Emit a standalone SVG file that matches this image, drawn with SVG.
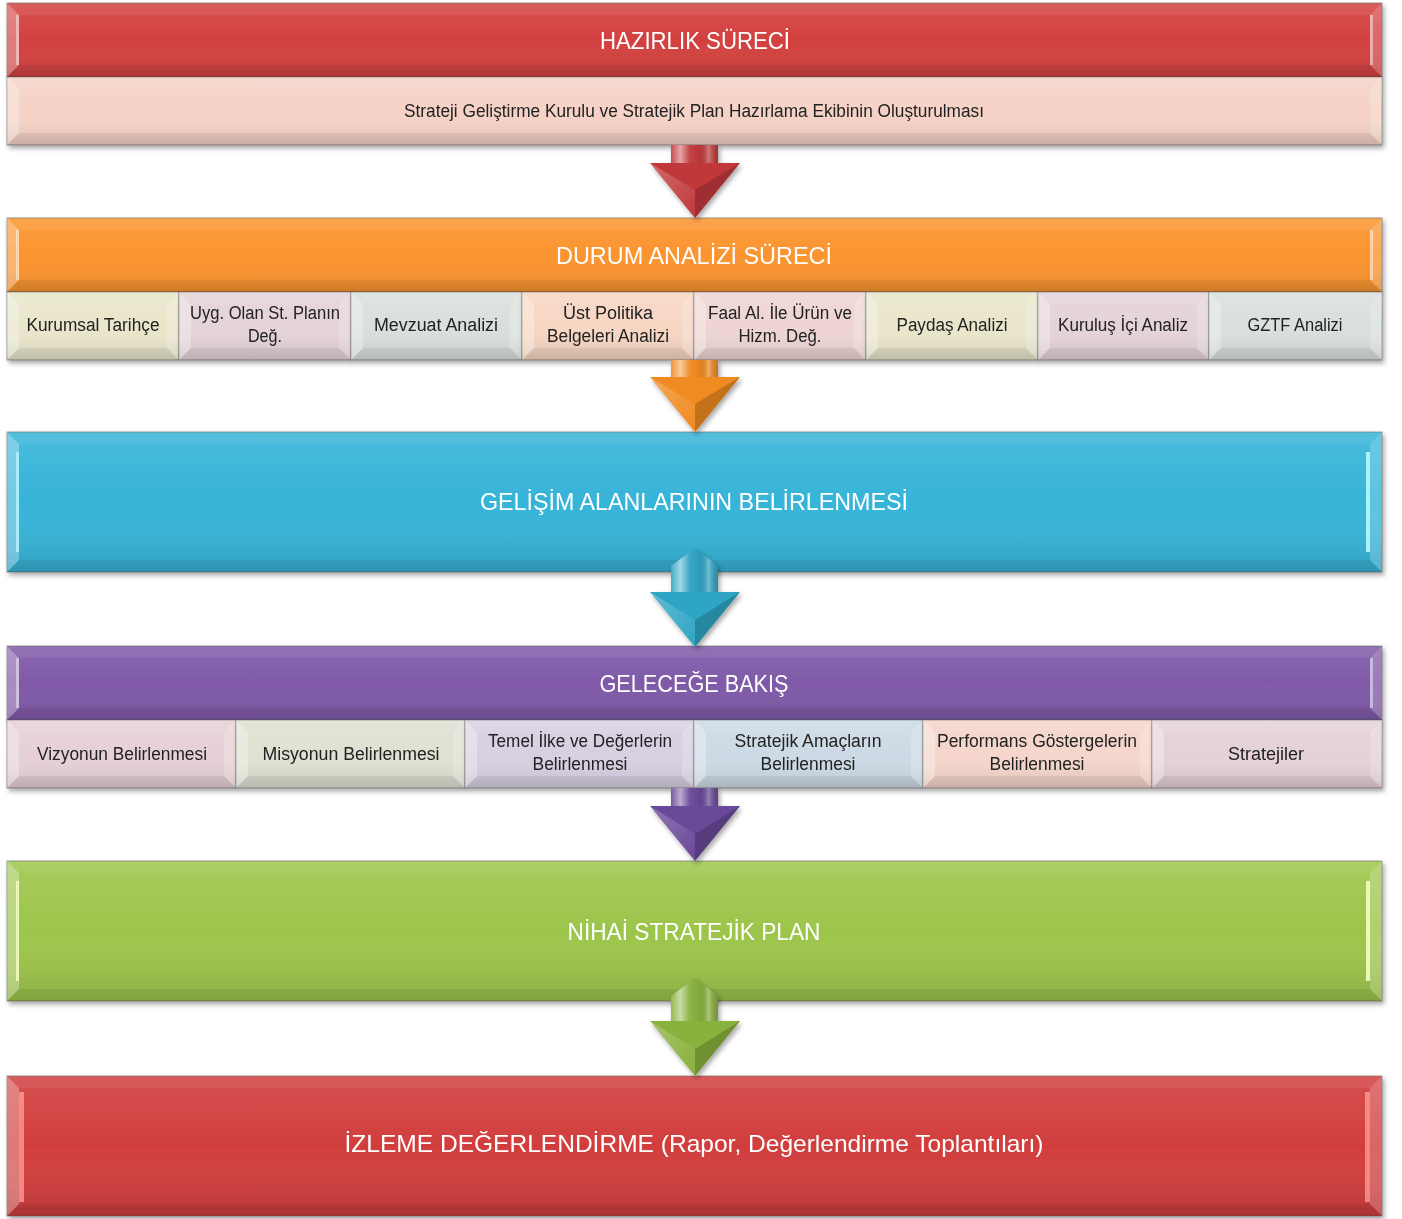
<svg xmlns="http://www.w3.org/2000/svg" width="1402" height="1219" viewBox="0 0 1402 1219">
<defs>
<filter id="sh" x="-5%" y="-20%" width="110%" height="150%"><feDropShadow dx="2" dy="3" stdDeviation="2.5" flood-color="#000" flood-opacity="0.35"/></filter>
<linearGradient id="gloss" x1="0" y1="0" x2="0" y2="1"><stop offset="0" stop-color="#fff" stop-opacity="0.1"/><stop offset="0.5" stop-color="#fff" stop-opacity="0"/><stop offset="1" stop-color="#000" stop-opacity="0.12"/></linearGradient>
<linearGradient id="headL" x1="0" y1="0" x2="1" y2="1"><stop offset="0" stop-color="#fff" stop-opacity="0.25"/><stop offset="1" stop-color="#fff" stop-opacity="0"/></linearGradient>
<linearGradient id="shaft" x1="0" y1="0" x2="1" y2="0"><stop offset="0" stop-color="#fff" stop-opacity="0.1"/><stop offset="0.2" stop-color="#fff" stop-opacity="0.55"/><stop offset="0.4" stop-color="#fff" stop-opacity="0.05"/><stop offset="0.6" stop-color="#000" stop-opacity="0.05"/><stop offset="0.8" stop-color="#fff" stop-opacity="0.3"/><stop offset="1" stop-color="#000" stop-opacity="0.15"/></linearGradient>
</defs>
<style>
.box{stroke:#555;stroke-opacity:0.55;stroke-width:1}
.bl{fill:#fff;fill-opacity:0.3}
.br{fill:#fff;fill-opacity:0.2}
.bt{fill:#fff;fill-opacity:0.06}
.bb{fill:#000;fill-opacity:0.06}
.hl{fill:#fff;fill-opacity:0.45}
.gl{fill:url(#gloss)}
.tt{font-family:"Liberation Sans",Arial,sans-serif;font-size:24px;fill:#fff;text-anchor:middle}
.st{font-family:"Liberation Sans",Arial,sans-serif;font-size:18px;fill:#222;text-anchor:middle}
.dk{fill:#000;fill-opacity:0.18}
.lt{fill:url(#headL)}
.sf{fill:url(#shaft)}
</style>
<rect width="1402" height="1219" fill="#fff"/>

<!-- HAZIRLIK -->
<g id="hazirlik" filter="url(#sh)">
<rect class="box" x="7" y="3" width="1375" height="74" fill="#d3403f"/>
<rect class="gl" x="7" y="3" width="1375" height="74"/>
<polygon class="bl" points="7,3 19,15 19,65 7,77"/><polygon class="br" points="1382,3 1370,15 1370,65 1382,77"/>
<polygon class="bt" points="7,3 1382,3 1370,15 19,15"/><polygon class="bb" points="7,77 1382,77 1370,65 19,65"/>
<rect class="hl" x="16" y="15" width="3" height="50"/><rect class="hl" x="1370" y="15" width="3" height="50"/>
<text class="tt" x="695" y="49" textLength="190" lengthAdjust="spacingAndGlyphs">HAZIRLIK SÜRECİ</text>
</g>
<g id="hazirlik-1" filter="url(#sh)">
<rect class="box" x="7" y="77" width="1375" height="68" fill="#f6d2c6"/>
<rect class="gl" x="7" y="77" width="1375" height="68"/>
<polygon class="bl" points="7,77 19,89 19,133 7,145"/><polygon class="br" points="1382,77 1370,89 1370,133 1382,145"/>
<polygon class="bt" points="7,77 1382,77 1370,89 19,89"/><polygon class="bb" points="7,145 1382,145 1370,133 19,133"/>
<text class="st" x="694" y="117" font-size="17" textLength="580" lengthAdjust="spacingAndGlyphs">Strateji Geliştirme Kurulu ve Stratejik Plan Hazırlama Ekibinin Oluşturulması</text>
</g>

<!-- DURUM ANALIZI -->
<g id="durum" filter="url(#sh)">
<rect class="box" x="7" y="218" width="1375" height="74" fill="#fb942e"/>
<rect class="gl" x="7" y="218" width="1375" height="74"/>
<polygon class="bl" points="7,218 19,230 19,280 7,292"/><polygon class="br" points="1382,218 1370,230 1370,280 1382,292"/>
<polygon class="bt" points="7,218 1382,218 1370,230 19,230"/><polygon class="bb" points="7,292 1382,292 1370,280 19,280"/>
<rect class="hl" x="16" y="230" width="3" height="50"/><rect class="hl" x="1370" y="230" width="3" height="50"/>
<text class="tt" x="694" y="264" textLength="276" lengthAdjust="spacingAndGlyphs">DURUM ANALİZİ SÜRECİ</text>
</g>
<g id="d1" filter="url(#sh)">
<rect class="box" x="7" y="292" width="172" height="68" fill="#e9e6cb"/><rect class="gl" x="7" y="292" width="172" height="68"/>
<polygon class="bl" points="7,292 19,304 19,348 7,360"/><polygon class="br" points="179,292 167,304 167,348 179,360"/>
<polygon class="bt" points="7,292 179,292 167,304 19,304"/><polygon class="bb" points="7,360 179,360 167,348 19,348"/>
<text class="st" x="93" y="331" textLength="133" lengthAdjust="spacingAndGlyphs">Kurumsal Tarihçe</text>
</g>
<g id="d2" filter="url(#sh)">
<rect class="box" x="179" y="292" width="172" height="68" fill="#e4d3d9"/><rect class="gl" x="179" y="292" width="172" height="68"/>
<polygon class="bl" points="179,292 191,304 191,348 179,360"/><polygon class="br" points="351,292 339,304 339,348 351,360"/>
<polygon class="bt" points="179,292 351,292 339,304 191,304"/><polygon class="bb" points="179,360 351,360 339,348 191,348"/>
<text class="st" x="265" y="319" textLength="150" lengthAdjust="spacingAndGlyphs">Uyg. Olan St. Planın</text>
<text class="st" x="265" y="342" textLength="34" lengthAdjust="spacingAndGlyphs">Değ.</text>
</g>
<g id="d3" filter="url(#sh)">
<rect class="box" x="351" y="292" width="171" height="68" fill="#d9e0dc"/><rect class="gl" x="351" y="292" width="171" height="68"/>
<polygon class="bl" points="351,292 363,304 363,348 351,360"/><polygon class="br" points="522,292 510,304 510,348 522,360"/>
<polygon class="bt" points="351,292 522,292 510,304 363,304"/><polygon class="bb" points="351,360 522,360 510,348 363,348"/>
<text class="st" x="436" y="331" textLength="124" lengthAdjust="spacingAndGlyphs">Mevzuat Analizi</text>
</g>
<g id="d4" filter="url(#sh)">
<rect class="box" x="522" y="292" width="172" height="68" fill="#f7d6c3"/><rect class="gl" x="522" y="292" width="172" height="68"/>
<polygon class="bl" points="522,292 534,304 534,348 522,360"/><polygon class="br" points="694,292 682,304 682,348 694,360"/>
<polygon class="bt" points="522,292 694,292 682,304 534,304"/><polygon class="bb" points="522,360 694,360 682,348 534,348"/>
<text class="st" x="608" y="319" textLength="90" lengthAdjust="spacingAndGlyphs">Üst Politika</text>
<text class="st" x="608" y="342" textLength="122" lengthAdjust="spacingAndGlyphs">Belgeleri Analizi</text>
</g>
<g id="d5" filter="url(#sh)">
<rect class="box" x="694" y="292" width="172" height="68" fill="#eed5d3"/><rect class="gl" x="694" y="292" width="172" height="68"/>
<polygon class="bl" points="694,292 706,304 706,348 694,360"/><polygon class="br" points="866,292 854,304 854,348 866,360"/>
<polygon class="bt" points="694,292 866,292 854,304 706,304"/><polygon class="bb" points="694,360 866,360 854,348 706,348"/>
<text class="st" x="780" y="319" textLength="144" lengthAdjust="spacingAndGlyphs">Faal Al. İle Ürün ve</text>
<text class="st" x="780" y="342" textLength="83" lengthAdjust="spacingAndGlyphs">Hizm. Değ.</text>
</g>
<g id="d6" filter="url(#sh)">
<rect class="box" x="866" y="292" width="172" height="68" fill="#e9e6cb"/><rect class="gl" x="866" y="292" width="172" height="68"/>
<polygon class="bl" points="866,292 878,304 878,348 866,360"/><polygon class="br" points="1038,292 1026,304 1026,348 1038,360"/>
<polygon class="bt" points="866,292 1038,292 1026,304 878,304"/><polygon class="bb" points="866,360 1038,360 1026,348 878,348"/>
<text class="st" x="952" y="331" textLength="111" lengthAdjust="spacingAndGlyphs">Paydaş Analizi</text>
</g>
<g id="d7" filter="url(#sh)">
<rect class="box" x="1038" y="292" width="171" height="68" fill="#e4d3d9"/><rect class="gl" x="1038" y="292" width="171" height="68"/>
<polygon class="bl" points="1038,292 1050,304 1050,348 1038,360"/><polygon class="br" points="1209,292 1197,304 1197,348 1209,360"/>
<polygon class="bt" points="1038,292 1209,292 1197,304 1050,304"/><polygon class="bb" points="1038,360 1209,360 1197,348 1050,348"/>
<text class="st" x="1123" y="331" textLength="130" lengthAdjust="spacingAndGlyphs">Kuruluş İçi Analiz</text>
</g>
<g id="d8" filter="url(#sh)">
<rect class="box" x="1209" y="292" width="173" height="68" fill="#d9e0dc"/><rect class="gl" x="1209" y="292" width="173" height="68"/>
<polygon class="bl" points="1209,292 1221,304 1221,348 1209,360"/><polygon class="br" points="1382,292 1370,304 1370,348 1382,360"/>
<polygon class="bt" points="1209,292 1382,292 1370,304 1221,304"/><polygon class="bb" points="1209,360 1382,360 1370,348 1221,348"/>
<text class="st" x="1295" y="331" textLength="95" lengthAdjust="spacingAndGlyphs">GZTF Analizi</text>
</g>

<!-- GELISIM -->
<g id="gelisim" filter="url(#sh)">
<rect class="box" x="7" y="432" width="1375" height="140" fill="#36b4d8"/>
<rect class="gl" x="7" y="432" width="1375" height="140"/>
<polygon class="bl" points="7,432 19,444 19,560 7,572"/><polygon class="br" points="1382,432 1370,444 1370,560 1382,572"/>
<polygon class="bt" points="7,432 1382,432 1370,444 19,444"/><polygon class="bb" points="7,572 1382,572 1370,560 19,560"/>
<rect x="16" y="452" width="3" height="100" fill="#b8f4ff" fill-opacity="0.8"/><rect x="1366" y="452" width="4" height="100" fill="#b8f8ff" fill-opacity="0.9"/>
<text class="tt" x="694" y="510" textLength="428" lengthAdjust="spacingAndGlyphs">GELİŞİM ALANLARININ BELİRLENMESİ</text>
</g>

<!-- GELECEGE BAKIS -->
<g id="gelecege" filter="url(#sh)">
<rect class="box" x="7" y="646" width="1375" height="74" fill="#7f59a8"/>
<rect class="gl" x="7" y="646" width="1375" height="74"/>
<polygon class="bl" points="7,646 19,658 19,708 7,720"/><polygon class="br" points="1382,646 1370,658 1370,708 1382,720"/>
<polygon class="bt" points="7,646 1382,646 1370,658 19,658"/><polygon class="bb" points="7,720 1382,720 1370,708 19,708"/>
<rect class="hl" x="16" y="658" width="3" height="50"/><rect class="hl" x="1370" y="658" width="3" height="50"/>
<text class="tt" x="694" y="692" textLength="189" lengthAdjust="spacingAndGlyphs">GELECEĞE BAKIŞ</text>
</g>
<g id="g1" filter="url(#sh)">
<rect class="box" x="7" y="720" width="229" height="68" fill="#e6d0d6"/><rect class="gl" x="7" y="720" width="229" height="68"/>
<polygon class="bl" points="7,720 19,732 19,776 7,788"/><polygon class="br" points="236,720 224,732 224,776 236,788"/>
<polygon class="bt" points="7,720 236,720 224,732 19,732"/><polygon class="bb" points="7,788 236,788 224,776 19,776"/>
<text class="st" x="122" y="760" textLength="170" lengthAdjust="spacingAndGlyphs">Vizyonun Belirlenmesi</text>
</g>
<g id="g2" filter="url(#sh)">
<rect class="box" x="236" y="720" width="229" height="68" fill="#dde2d2"/><rect class="gl" x="236" y="720" width="229" height="68"/>
<polygon class="bl" points="236,720 248,732 248,776 236,788"/><polygon class="br" points="465,720 453,732 453,776 465,788"/>
<polygon class="bt" points="236,720 465,720 453,732 248,732"/><polygon class="bb" points="236,788 465,788 453,776 248,776"/>
<text class="st" x="351" y="760" textLength="177" lengthAdjust="spacingAndGlyphs">Misyonun Belirlenmesi</text>
</g>
<g id="g3" filter="url(#sh)">
<rect class="box" x="465" y="720" width="229" height="68" fill="#d8d0e1"/><rect class="gl" x="465" y="720" width="229" height="68"/>
<polygon class="bl" points="465,720 477,732 477,776 465,788"/><polygon class="br" points="694,720 682,732 682,776 694,788"/>
<polygon class="bt" points="465,720 694,720 682,732 477,732"/><polygon class="bb" points="465,788 694,788 682,776 477,776"/>
<text class="st" x="580" y="747" textLength="184" lengthAdjust="spacingAndGlyphs">Temel İlke ve Değerlerin</text>
<text class="st" x="580" y="770" textLength="95" lengthAdjust="spacingAndGlyphs">Belirlenmesi</text>
</g>
<g id="g4" filter="url(#sh)">
<rect class="box" x="694" y="720" width="229" height="68" fill="#cddae5"/><rect class="gl" x="694" y="720" width="229" height="68"/>
<polygon class="bl" points="694,720 706,732 706,776 694,788"/><polygon class="br" points="923,720 911,732 911,776 923,788"/>
<polygon class="bt" points="694,720 923,720 911,732 706,732"/><polygon class="bb" points="694,788 923,788 911,776 706,776"/>
<text class="st" x="808" y="747" textLength="147" lengthAdjust="spacingAndGlyphs">Stratejik Amaçların</text>
<text class="st" x="808" y="770" textLength="95" lengthAdjust="spacingAndGlyphs">Belirlenmesi</text>
</g>
<g id="g5" filter="url(#sh)">
<rect class="box" x="923" y="720" width="229" height="68" fill="#f5d5cc"/><rect class="gl" x="923" y="720" width="229" height="68"/>
<polygon class="bl" points="923,720 935,732 935,776 923,788"/><polygon class="br" points="1152,720 1140,732 1140,776 1152,788"/>
<polygon class="bt" points="923,720 1152,720 1140,732 935,732"/><polygon class="bb" points="923,788 1152,788 1140,776 935,776"/>
<text class="st" x="1037" y="747" textLength="200" lengthAdjust="spacingAndGlyphs">Performans Göstergelerin</text>
<text class="st" x="1037" y="770" textLength="95" lengthAdjust="spacingAndGlyphs">Belirlenmesi</text>
</g>
<g id="g6" filter="url(#sh)">
<rect class="box" x="1152" y="720" width="230" height="68" fill="#e5d1d8"/><rect class="gl" x="1152" y="720" width="230" height="68"/>
<polygon class="bl" points="1152,720 1164,732 1164,776 1152,788"/><polygon class="br" points="1382,720 1370,732 1370,776 1382,788"/>
<polygon class="bt" points="1152,720 1382,720 1370,732 1164,732"/><polygon class="bb" points="1152,788 1382,788 1370,776 1164,776"/>
<text class="st" x="1266" y="760" textLength="76" lengthAdjust="spacingAndGlyphs">Stratejiler</text>
</g>

<!-- NIHAI -->
<g id="nihai" filter="url(#sh)">
<rect class="box" x="7" y="861" width="1375" height="140" fill="#9dc54b"/>
<rect class="gl" x="7" y="861" width="1375" height="140"/>
<polygon class="bl" points="7,861 19,873 19,989 7,1001"/><polygon class="br" points="1382,861 1370,873 1370,989 1382,1001"/>
<polygon class="bt" points="7,861 1382,861 1370,873 19,873"/><polygon class="bb" points="7,1001 1382,1001 1370,989 19,989"/>
<rect x="16" y="881" width="3" height="100" fill="#f4ffc0" fill-opacity="0.8"/><rect x="1366" y="881" width="4" height="100" fill="#f4ffc0" fill-opacity="0.9"/>
<text class="tt" x="694" y="940" textLength="253" lengthAdjust="spacingAndGlyphs">NİHAİ STRATEJİK PLAN</text>
</g>

<!-- IZLEME -->
<g id="izleme" filter="url(#sh)">
<rect class="box" x="7" y="1076" width="1375" height="140" fill="#d13e3d"/>
<rect class="gl" x="7" y="1076" width="1375" height="140"/>
<polygon class="bl" points="7,1076 19,1088 19,1204 7,1216"/><polygon class="br" points="1382,1076 1370,1088 1370,1204 1382,1216"/>
<polygon class="bt" points="7,1076 1382,1076 1370,1088 19,1088"/><polygon class="bb" points="7,1216 1382,1216 1370,1204 19,1204"/>
<rect x="19" y="1092" width="5" height="110" fill="#ff9a90" fill-opacity="0.8"/><rect x="1365" y="1092" width="5" height="110" fill="#ff9a90" fill-opacity="0.8"/>
<text class="tt" x="694" y="1152" textLength="699" lengthAdjust="spacingAndGlyphs">İZLEME DEĞERLENDİRME (Rapor, Değerlendirme Toplantıları)</text>
</g>

<!-- connectors -->
<g id="connectors" filter="url(#sh)">
<g>
<path d="M671,145 L718,145 L718,163 L740,163 L695,218 L650,163 L671,163 Z" fill="#c1393b"/>
<rect class="sf" x="671" y="145" width="47" height="18"/>
<polygon class="lt" points="650,163 695,190 695,218"/><polygon class="dk" points="740,163 695,190 695,218"/>
</g>
<g>
<path d="M671,360 L718,360 L718,377 L740,377 L695,432 L650,377 L671,377 Z" fill="#f08a20"/>
<rect class="sf" x="671" y="360" width="47" height="17"/>
<polygon class="lt" points="650,377 695,404 695,432"/><polygon class="dk" points="740,377 695,404 695,432"/>
</g>
<g>
<path d="M695,548 L718,566 L718,592 L740,592 L695,647 L650,592 L671,592 L671,566 Z" fill="#2fa5c4"/>
<polygon class="sf" points="695,548 718,566 718,592 671,592 671,566"/>
<polygon class="lt" points="650,592 695,620 695,647"/><polygon class="dk" points="740,592 695,620 695,647"/>
</g>
<g>
<path d="M671,788 L718,788 L718,806 L740,806 L695,861 L650,806 L671,806 Z" fill="#6a4899"/>
<rect class="sf" x="671" y="788" width="47" height="18"/>
<polygon class="lt" points="650,806 695,834 695,861"/><polygon class="dk" points="740,806 695,834 695,861"/>
</g>
<g>
<path d="M695,978 L718,996 L718,1021 L740,1021 L695,1076 L650,1021 L671,1021 L671,996 Z" fill="#88b13c"/>
<polygon class="sf" points="695,978 718,996 718,1021 671,1021 671,996"/>
<polygon class="lt" points="650,1021 695,1049 695,1076"/><polygon class="dk" points="740,1021 695,1049 695,1076"/>
</g>
</g>
</svg>
